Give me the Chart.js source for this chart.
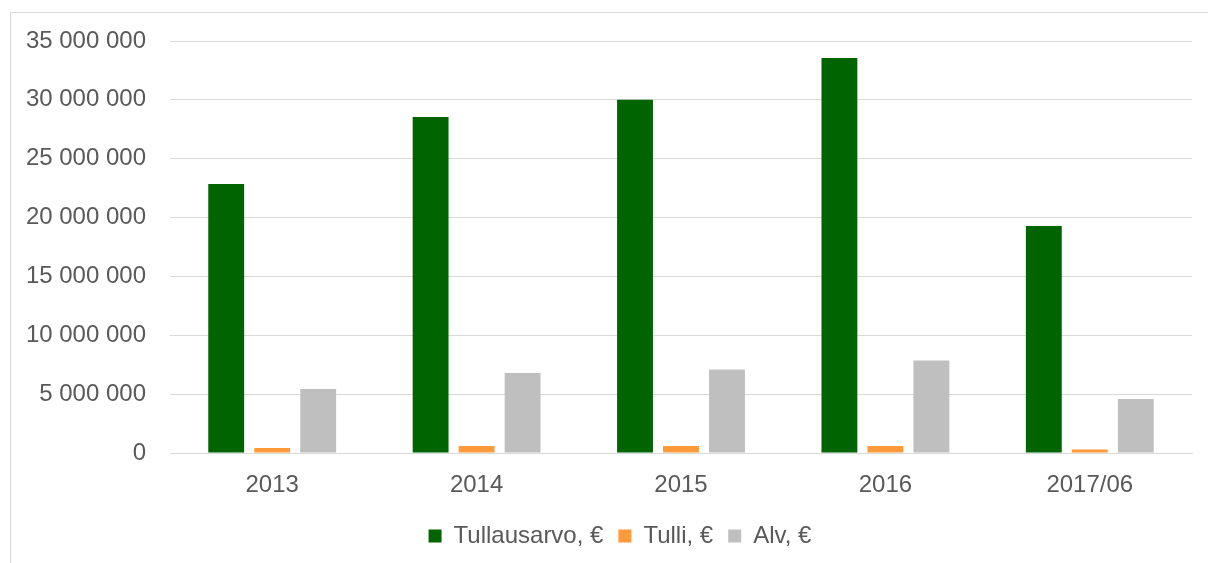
<!DOCTYPE html>
<html>
<head>
<meta charset="utf-8">
<script src="https://cdn.jsdelivr.net/npm/chart.js@4"></script>
<style>
  html, body { margin: 0; padding: 0; background: #fff; overflow: hidden; }
  #wrap { position: relative; width: 1208px; height: 563px; overflow: hidden; }
  #frame { position: absolute; left: 10px; top: 12px; width: 1300px; height: 700px;
           border: 1px solid #d9d9d9; box-sizing: border-box; }
  #chart { position: absolute; left: 0; top: 0; }
</style>
</head>
<body>
<div id="wrap">
  <div id="frame"></div>
  <canvas id="chart" width="1240" height="563"></canvas>
</div>
<script>
// categories and series (euros)
const years = ['2013', '2014', '2015', '2016', '2017/06'];
const tullausarvo = [22850000, 28550000, 30000000, 33560000, 19290000];
const tulli = [430000, 600000, 600000, 600000, 300000];
const alv = [5440000, 6800000, 7090000, 7860000, 4590000];

const seriesNames = ['Tullausarvo, €', 'Tulli, €', 'Alv, €'];
const seriesColors = ['#006400', '#ff9a3a', '#bfbfbf'];

// "35 000 000" style thousands
const fmt = v => String(v).replace(/\B(?=(\d{3})+(?!\d))/g, ' ');

const font = { family: '"Liberation Sans", Arial, sans-serif', size: 24 };

// legend sits centred on the outer frame, not the plot: nudge it right
const legendShift = {
  id: 'legendShift',
  afterLayout(chart) {
    chart.legend.left += 24;
    chart.legend.right += 24;
  }
};

new Chart(document.getElementById('chart'), {
  type: 'bar',
  data: {
    labels: years,
    datasets: [tullausarvo, tulli, alv].map((d, i) => ({
      label: seriesNames[i],
      data: d,
      backgroundColor: seriesColors[i],
      categoryPercentage: 0.675,
      barPercentage: 0.78
    }))
  },
  options: {
    responsive: false,
    animation: false,
    layout: { padding: { left: 0, top: 41, right: 48, bottom: 5 } },
    scales: {
      x: {
        grid: { display: false },
        border: { display: true, color: '#d9d9d9', width: 1 },
        ticks: { font, color: '#595959', padding: 10 },
        afterFit: s => { s.height = 56; }
      },
      y: {
        min: 0,
        max: 35000000,
        ticks: { stepSize: 5000000, font, color: '#595959', padding: 24, callback: v => fmt(v) },
        grid: { color: '#d9d9d9', lineWidth: 1, drawTicks: false },
        border: { display: false },
        afterFit: s => { s.width = 170; }
      }
    },
    plugins: {
      tooltip: { enabled: false },
      legend: {
        position: 'bottom',
        labels: { font, color: '#595959', boxWidth: 13, boxHeight: 13, padding: 15 }
      }
    }
  },
  plugins: [legendShift]
});
</script>
</body>
</html>
